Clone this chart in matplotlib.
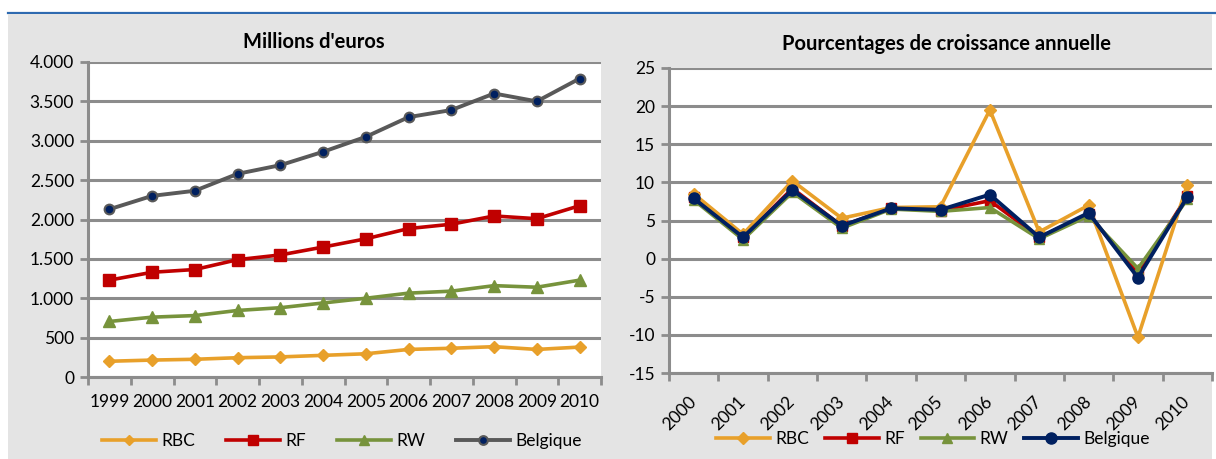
import matplotlib.pyplot as plt
from matplotlib.lines import Line2D
from matplotlib.patches import Rectangle
from matplotlib.ticker import FuncFormatter, FixedLocator

plt.rcParams["font.family"] = ["Lato", "DejaVu Sans"]
plt.rcParams["axes.unicode_minus"] = False

# data
years_abs = ["1999", "2000", "2001", "2002", "2003", "2004", "2005",
             "2006", "2007", "2008", "2009", "2010"]
rbc_abs = [200, 215, 225, 245, 255, 275, 295, 350, 365, 385, 350, 380]
rf_abs = [1230, 1330, 1365, 1490, 1550, 1650, 1755, 1885, 1940, 2045, 2010, 2175]
rw_abs = [705, 760, 780, 845, 880, 940, 1000, 1065, 1090, 1160, 1140, 1230]
bel_abs = [2130, 2300, 2365, 2580, 2690, 2860, 3050, 3300, 3390, 3600, 3500, 3790]

years_pct = ["2000", "2001", "2002", "2003", "2004", "2005", "2006",
             "2007", "2008", "2009", "2010"]
rbc_pct = [8.5, 3.2, 10.2, 5.3, 6.7, 6.8, 19.5, 3.5, 7.0, -10.3, 9.7]
rf_pct = [8.1, 2.8, 9.2, 4.3, 6.6, 6.3, 7.6, 2.8, 5.8, -2.0, 8.2]
rw_pct = [7.7, 2.5, 8.7, 4.0, 6.5, 6.2, 6.7, 2.6, 5.6, -1.3, 7.8]
bel_pct = [7.9, 2.8, 9.0, 4.3, 6.6, 6.4, 8.4, 2.8, 6.0, -2.5, 8.1]

ORANGE = "#E8A02A"
RED = "#C00000"
GREEN = "#77933C"
GREY = "#595959"
NAVY = "#002060"
GRID = "#8C8C8C"
BG = "#E4E4E4"
FS = 12.5

W, H = 1216, 459
fig = plt.figure(figsize=(W / 100, H / 100), dpi=100)
fig.patch.set_facecolor("white")

# grey panel and blue rule
fig.patches.append(Rectangle((8 / W, 0), (1212 - 8) / W, (H - 14) / H,
                             transform=fig.transFigure, facecolor=BG,
                             edgecolor="none", zorder=-10))
fig.lines.append(Line2D([8 / W, 1], [1 - 13 / H, 1 - 13 / H],
                        transform=fig.transFigure, color="#2E6AB0", lw=1.6,
                        zorder=-10))


def px_axes(x0, y0, x1, y1):
    return fig.add_axes([x0 / W, (H - y1) / H, (x1 - x0) / W, (y1 - y0) / H])


def style(ax, labels):
    n = len(labels)
    ax.set_facecolor("white")
    ax.set_xlim(-0.5, n - 0.5)
    ax.xaxis.set_major_locator(FixedLocator(range(n)))
    ax.set_xticklabels(labels)
    ax.xaxis.set_minor_locator(FixedLocator([k - 0.5 for k in range(n + 1)]))
    ax.tick_params(axis="x", which="major", length=0, labelsize=FS, pad=12)
    ax.tick_params(axis="x", which="minor", length=6, width=2, color=GRID)
    ax.tick_params(axis="y", length=6, width=2, color=GRID, labelsize=FS, pad=4)
    ax.grid(axis="y", color=GRID, lw=2.2)
    ax.set_axisbelow(True)
    for s in ("top", "right"):
        ax.spines[s].set_visible(False)
    for s in ("left", "bottom"):
        ax.spines[s].set_color(GRID)
        ax.spines[s].set_linewidth(2.2)


# left chart
ax1 = px_axes(88, 62, 601, 377)
x1 = range(len(years_abs))
ax1.plot(x1, rbc_abs, color=ORANGE, lw=2.6, marker="D", ms=6, mec=ORANGE, label="RBC")
ax1.plot(x1, rf_abs, color=RED, lw=2.6, marker="s", ms=8, mec=RED, label="RF")
ax1.plot(x1, rw_abs, color=GREEN, lw=2.6, marker="^", ms=8, mec=GREEN, label="RW")
ax1.plot(x1, bel_abs, color=GREY, lw=2.8, marker="o", ms=7, mfc=NAVY, mec=GREY,
         mew=1.5, label="Belgique")
ax1.set_ylim(0, 4000)
ax1.set_yticks(range(0, 4001, 500))
ax1.yaxis.set_major_formatter(FuncFormatter(lambda v, p: f"{int(v):,}".replace(",", ".")))
style(ax1, years_abs)
fig.text(314 / W, 1 - 42 / H, "Millions d'euros", ha="center", va="center",
         fontsize=14.5, fontweight="bold")
fig.legend(*ax1.get_legend_handles_labels(), loc="center",
           bbox_to_anchor=(342 / W, 1 - 441 / H), ncol=4, frameon=False,
           fontsize=FS, handlelength=3.1, columnspacing=1.8, handletextpad=0.29,
           markerscale=0.9)

# right chart
ax2 = px_axes(669, 68, 1212, 373)
x2 = range(len(years_pct))
ax2.plot(x2, rbc_pct, color=ORANGE, lw=2.6, marker="D", ms=6, mec=ORANGE, label="RBC", zorder=4)
ax2.plot(x2, rf_pct, color=RED, lw=2.6, marker="s", ms=7, mec=RED, label="RF", zorder=3)
ax2.plot(x2, rw_pct, color=GREEN, lw=2.6, marker="^", ms=7, mec=GREEN, label="RW", zorder=3)
ax2.plot(x2, bel_pct, color=NAVY, lw=2.8, marker="o", ms=8, mec=NAVY, label="Belgique", zorder=5)
ax2.set_ylim(-15, 25)
ax2.set_yticks(range(-15, 26, 5))
style(ax2, years_pct)
ax2.tick_params(axis="x", which="major", pad=19)
for t in ax2.get_xticklabels():
    t.set_rotation(45)
    t.set_ha("right")
    t.set_va("center")
    t.set_rotation_mode("anchor")
fig.text(947 / W, 1 - 44 / H, "Pourcentages de croissance annuelle", ha="center",
         va="center", fontsize=14.5, fontweight="bold")
fig.legend(*ax2.get_legend_handles_labels(), loc="center",
           bbox_to_anchor=(933 / W, 1 - 439 / H), ncol=4, frameon=False,
           fontsize=FS, handlelength=3.1, columnspacing=0.92, handletextpad=0.29)

fig.savefig("out.png", dpi=100, facecolor=fig.get_facecolor())
